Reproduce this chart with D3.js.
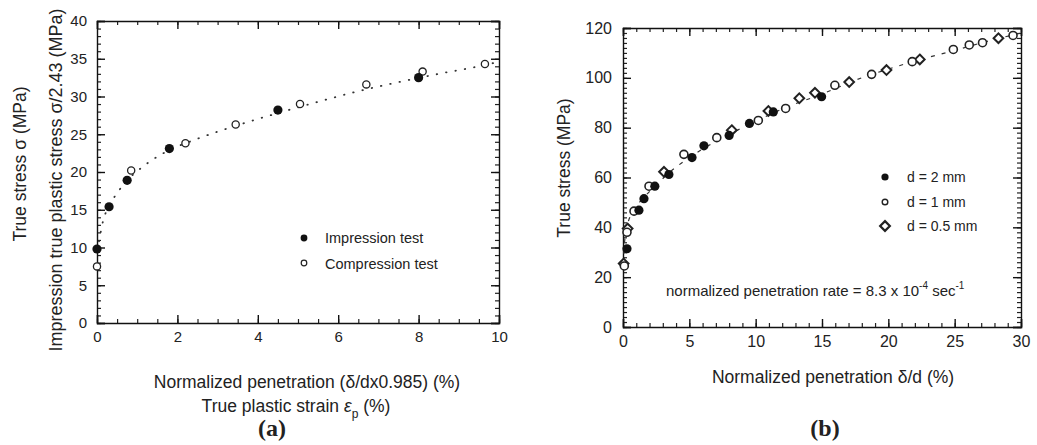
<!DOCTYPE html>
<html>
<head>
<meta charset="utf-8">
<script src="https://cdn.jsdelivr.net/npm/d3@7"></script>
<style>
  body { margin: 0; background: #fff; }
  text { fill: #222; }
</style>
</head>
<body>
<script>
// Panel (a) data: normalized penetration / strain (%) vs stress (MPa)
const impressionA = [[0, 9.8], [0.3, 15.4], [0.75, 18.9], [1.8, 23.1], [4.5, 28.2], [8.0, 32.5]];
const compressionA = [[0, 7.5], [0.85, 20.2], [2.2, 23.8], [3.45, 26.3], [5.05, 29.0], [6.7, 31.6], [8.1, 33.3], [9.65, 34.3]];
const fitA = [[0.05, 10.8], [0.15, 13.5], [0.3, 15.5], [0.5, 17.2], [0.75, 18.9], [1, 20.1], [1.4, 21.7],
  [1.8, 22.9], [2.5, 24.4], [3.5, 26.2], [4.5, 27.8], [5.5, 29.3], [6.5, 30.7], [7.5, 31.9], [8.5, 33.0],
  [9.5, 34.0], [10, 34.6]];

// Panel (b) data: normalized penetration δ/d (%) vs true stress (MPa)
const d2mm = [[0.3, 31.4], [1.2, 46.9], [1.58, 51.5], [2.4, 56.5], [3.46, 61.2], [5.2, 68], [6.1, 72.7],
  [8.0, 76.9], [9.53, 81.7], [11.33, 86.3], [14.97, 92.4]];
const d1mm = [[0.1, 24.5], [0.3, 38], [0.83, 46.5], [1.96, 56.5], [4.59, 69.3], [7.07, 76], [10.2, 82.9],
  [12.26, 87.7], [15.97, 97.0], [18.74, 101.4], [21.8, 106.5], [24.9, 111.4], [26.1, 113.2], [27.1, 114.1], [29.4, 117]];
const d05mm = [[0.05, 25.5], [0.35, 39.5], [3.09, 62.3], [8.2, 79], [10.96, 86.7], [13.29, 91.8], [14.47, 94],
  [17.05, 98.3], [19.86, 103.1], [22.37, 107.4], [28.3, 115.9]];
const fitB = [[0, 25], [0.1, 33], [0.3, 40], [0.7, 46], [1.5, 51.5], [2.5, 57], [3.5, 62], [5, 68], [7, 74.5],
  [10, 82.5], [12, 87.5], [15, 93.5], [18, 100], [20, 103.5], [22.5, 107.5], [25, 111], [27, 114], [30, 118]];

const legendA = ['Impression test', 'Compression test'];
const legendB = ['d = 2 mm', 'd = 1 mm', 'd = 0.5 mm'];

const width = 1037;
const height = 445;
const sans = '"Liberation Sans", Arial, sans-serif';
const serif = '"Liberation Serif", "Times New Roman", serif';

const svg = d3.select('body')
.append('svg')
.attr('width', width)
.attr('height', height)
.style('font-family', sans);

// framed box with inward ticks on all four sides
function drawFrame(x, y, xMajor, xMinor, yMajor, yMinor, fontSize, xPad, yPad) {
    const [x0, x1] = x.range();
    const [y0, y1] = y.range();

    const axes = [
        [d3.axisBottom, y0, 'x'],
        [d3.axisTop, y1, 'x'],
        [d3.axisLeft, x0, 'y'],
        [d3.axisRight, x1, 'y']
    ];
    axes.forEach(([axisFn, pos, dir], i) => {
        const scale = dir === 'x' ? x : y;
        const major = dir === 'x' ? xMajor : yMajor;
        const minor = dir === 'x' ? xMinor : yMinor;
        const tr = dir === 'x' ? `translate(0,${ pos })` : `translate(${ pos },0)`;
        const labelled = i === 0 || i === 2;

        const gm = svg.append('g').attr('transform', tr)
        .call(axisFn(scale).tickValues(minor).tickSize(-4).tickFormat(() => ''));
        gm.select('.domain').remove();
        gm.selectAll('.tick line').attr('stroke', '#222').attr('stroke-width', 1.2);

        const gM = svg.append('g').attr('transform', tr)
        .call(axisFn(scale).tickValues(major).tickSize(-8).tickPadding(dir === 'x' ? xPad : yPad)
            .tickFormat(labelled ? d3.format('d') : () => ''));
        gM.select('.domain').attr('stroke', '#111').attr('stroke-width', 1.4);
        gM.selectAll('.tick line').attr('stroke', '#111').attr('stroke-width', 1.4);
        gM.selectAll('text')
        .attr('font-size', fontSize)
        .attr('font-family', null)
        .style('font-family', sans)
        .attr('fill', '#222');
    });
}

// ---------- Panel (a)
const xA = d3.scaleLinear().domain([0, 10]).range([97, 499]);
const yA = d3.scaleLinear().domain([0, 40]).range([323, 21]);

drawFrame(xA, yA, d3.range(0, 11, 2), d3.range(0, 10.01, 0.5), d3.range(0, 41, 5), d3.range(0, 41, 1), '15px', 8, 10);

svg.append('path')
.datum(fitA)
.attr('d', d3.line().x(d => xA(d[0])).y(d => yA(d[1])).curve(d3.curveMonotoneX))
.attr('fill', 'none')
.attr('stroke', '#333')
.attr('stroke-width', 1.8)
.attr('stroke-linecap', 'round')
.attr('stroke-dasharray', '0.5,9');

svg.append('g').selectAll('circle')
.data(compressionA)
.enter()
.append('circle')
.attr('cx', d => xA(d[0]))
.attr('cy', d => yA(d[1]))
.attr('r', 3.6)
.attr('fill', '#fff')
.attr('stroke', '#222')
.attr('stroke-width', 1.3);

svg.append('g').selectAll('circle')
.data(impressionA)
.enter()
.append('circle')
.attr('cx', d => xA(d[0]))
.attr('cy', d => yA(d[1]))
.attr('r', 4.6)
.attr('fill', '#111');

// legend (a)
svg.append('circle').attr('cx', 304).attr('cy', 238).attr('r', 3.4).attr('fill', '#111');
svg.append('circle').attr('cx', 304).attr('cy', 263).attr('r', 2.8)
.attr('fill', '#fff').attr('stroke', '#222').attr('stroke-width', 1.2);
svg.append('g').selectAll('text')
.data(legendA)
.enter()
.append('text')
.attr('x', 325)
.attr('y', (d, i) => 243 + i * 25.5)
.attr('font-size', '14.5px')
.text(d => d);

// axis titles (a)
svg.append('text')
.attr('transform', 'translate(62,180) rotate(-90)')
.attr('text-anchor', 'middle')
.attr('font-size', '18px')
.text('Impression true plastic stress σ/2.43 (MPa)');

svg.append('text')
.attr('transform', 'translate(26,164) rotate(-90)')
.attr('text-anchor', 'middle')
.attr('font-size', '17.5px')
.text('True stress σ (MPa)');

svg.append('text')
.attr('x', 307).attr('y', 388)
.attr('text-anchor', 'middle')
.attr('font-size', '17.5px')
.text('Normalized penetration (δ/dx0.985) (%)');

const strainTitle = svg.append('text')
.attr('x', 296).attr('y', 412)
.attr('text-anchor', 'middle')
.attr('font-size', '17.5px');
strainTitle.append('tspan').text('True plastic strain  ');
strainTitle.append('tspan').attr('font-style', 'italic').text('ε');
strainTitle.append('tspan').attr('font-size', '12px').attr('dy', 6).text('p');
strainTitle.append('tspan').attr('dy', -6).text(' (%)');

svg.append('text')
.attr('x', 272).attr('y', 436)
.attr('text-anchor', 'middle')
.style('font-family', serif)
.attr('font-weight', 'bold')
.attr('font-size', '24px')
.attr('fill', '#000')
.text('(a)');

// ---------- Panel (b)
const xB = d3.scaleLinear().domain([0, 30]).range([623, 1021]);
const yB = d3.scaleLinear().domain([0, 120]).range([327, 28]);

drawFrame(xB, yB, d3.range(0, 31, 5), d3.range(0, 30.01, 1), d3.range(0, 121, 20), d3.range(0, 121, 2), '16px', 9, 11);

svg.append('path')
.datum(fitB)
.attr('d', d3.line().x(d => xB(d[0])).y(d => yB(d[1])).curve(d3.curveMonotoneX))
.attr('fill', 'none')
.attr('stroke', '#333')
.attr('stroke-width', 1.2)
.attr('stroke-dasharray', '4,7');

const diamond = d3.symbol().type(d3.symbolDiamond2).size(60);

svg.append('g').selectAll('path')
.data(d05mm)
.enter()
.append('path')
.attr('d', diamond)
.attr('transform', d => `translate(${ xB(d[0]) },${ yB(d[1]) })`)
.attr('fill', '#fff')
.attr('stroke', '#222')
.attr('stroke-width', 2);

svg.append('g').selectAll('circle')
.data(d1mm)
.enter()
.append('circle')
.attr('cx', d => xB(d[0]))
.attr('cy', d => yB(d[1]))
.attr('r', 4)
.attr('fill', '#fff')
.attr('stroke', '#222')
.attr('stroke-width', 1.6);

svg.append('g').selectAll('circle')
.data(d2mm)
.enter()
.append('circle')
.attr('cx', d => xB(d[0]))
.attr('cy', d => yB(d[1]))
.attr('r', 4.6)
.attr('fill', '#111');

// legend (b)
svg.append('circle').attr('cx', 885).attr('cy', 177).attr('r', 3.6).attr('fill', '#111');
svg.append('circle').attr('cx', 885).attr('cy', 202).attr('r', 2.8)
.attr('fill', '#fff').attr('stroke', '#222').attr('stroke-width', 1.4);
svg.append('path').attr('d', diamond).attr('transform', 'translate(885,226)')
.attr('fill', '#fff').attr('stroke', '#222').attr('stroke-width', 2.2);
svg.append('g').selectAll('text')
.data(legendB)
.enter()
.append('text')
.attr('x', 907)
.attr('y', (d, i) => 182 + i * 24.5)
.attr('font-size', '14px')
.text(d => d);

const rate = svg.append('text')
.attr('x', 666).attr('y', 296)
.attr('font-size', '15px');
rate.append('tspan').text('normalized penetration rate = 8.3 x 10');
rate.append('tspan').attr('font-size', '10px').attr('dy', -7).text('-4');
rate.append('tspan').attr('dy', 7).text(' sec');
rate.append('tspan').attr('font-size', '10px').attr('dy', -7).text('-1');

svg.append('text')
.attr('transform', 'translate(570,168) rotate(-90)')
.attr('text-anchor', 'middle')
.attr('font-size', '17.5px')
.text('True stress (MPa)');

svg.append('text')
.attr('x', 833).attr('y', 383)
.attr('text-anchor', 'middle')
.attr('font-size', '17.5px')
.text('Normalized penetration δ/d (%)');

svg.append('text')
.attr('x', 825).attr('y', 436)
.attr('text-anchor', 'middle')
.style('font-family', serif)
.attr('font-weight', 'bold')
.attr('font-size', '24px')
.attr('fill', '#000')
.text('(b)');
</script>
</body>
</html>
